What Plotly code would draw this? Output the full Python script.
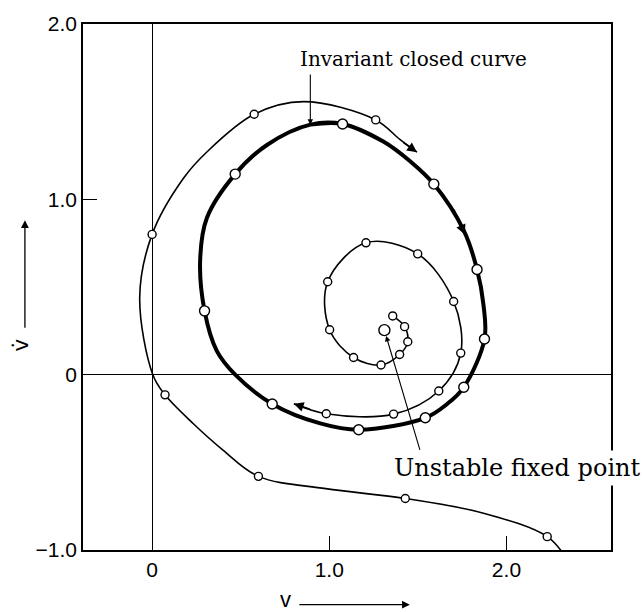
import plotly.graph_objects as go

# ---- trajectory data (v, v_dot) ----
# outer trajectory coming in from the lower right and winding onto the closed curve
outer_v = [2.34, 2.23, 1.87, 1.429, 0.98, 0.60, 0.40, 0.233, 0.073, 0.004, -0.07, 0.0, 0.177, 0.309, 0.576, 0.855, 1.262, 1.40, 1.495]
outer_vd = [-1.05, -0.924, -0.79, -0.706, -0.65, -0.58, -0.43, -0.28, -0.115, 0.0, 0.44, 0.80, 1.12, 1.27, 1.485, 1.557, 1.453, 1.34, 1.269]
outer_mark_v = [2.23, 1.429, 0.60, 0.073, 0.0, 0.576, 1.262]
outer_mark_vd = [-0.924, -0.706, -0.58, -0.115, 0.80, 1.485, 1.453]

# invariant closed curve (clockwise)
loop_v = [0.893, 1.075, 1.305, 1.458, 1.59, 1.76, 1.834, 1.87, 1.876, 1.759, 1.665, 1.542, 1.166, 0.949, 0.678, 0.469, 0.365, 0.296, 0.271, 0.309, 0.469, 0.648]
loop_vd = [1.426, 1.43, 1.33, 1.216, 1.087, 0.82, 0.60, 0.40, 0.203, -0.072, -0.167, -0.246, -0.314, -0.278, -0.167, 0.0, 0.136, 0.364, 0.648, 0.894, 1.144, 1.31]
loop_mark_v = [1.075, 0.469, 1.59, 1.834, 1.876, 1.759, 1.542, 1.166, 0.678, 0.296]
loop_mark_vd = [1.43, 1.144, 1.087, 0.60, 0.203, -0.072, -0.246, -0.314, -0.167, 0.364]

# inner trajectory spiralling out of the fixed point
spiral_v = [1.358, 1.425, 1.443, 1.397, 1.292, 1.137, 1.002, 0.991, 1.207, 1.499, 1.702, 1.742, 1.618, 1.363, 0.983, 0.80]
spiral_vd = [0.335, 0.274, 0.1875, 0.115, 0.055, 0.098, 0.256, 0.53, 0.752, 0.689, 0.417, 0.123, -0.093, -0.225, -0.223, -0.166]
spiral_mark_v = spiral_v[:-1]
spiral_mark_vd = spiral_vd[:-1]

fixed_v = [1.311]
fixed_vd = [0.254]

x_ticks = [0, 1, 2]
x_ticktext = ["0", "1.0", "2.0"]
y_ticks = [-1, 0, 1, 2]
y_ticktext = ["\u22121.0", "0", "1.0", "2.0"]

fig = go.Figure()

closed_v = loop_v + loop_v[:3]
closed_vd = loop_vd + loop_vd[:3]

fig.add_trace(go.Scatter(x=outer_v, y=outer_vd, mode="lines",
                         line=dict(color="black", width=1.6, shape="spline", smoothing=1.0)))
fig.add_trace(go.Scatter(x=closed_v, y=closed_vd, mode="lines",
                         line=dict(color="black", width=4, shape="spline", smoothing=1.0)))
fig.add_trace(go.Scatter(x=spiral_v, y=spiral_vd, mode="lines",
                         line=dict(color="black", width=1.6, shape="spline", smoothing=1.0)))

marker_style = dict(color="white", line=dict(color="black", width=1.4))
fig.add_trace(go.Scatter(x=outer_mark_v, y=outer_mark_vd, mode="markers",
                         marker=dict(size=8, **marker_style)))
fig.add_trace(go.Scatter(x=loop_mark_v, y=loop_mark_vd, mode="markers",
                         marker=dict(size=10, **marker_style)))
fig.add_trace(go.Scatter(x=spiral_mark_v, y=spiral_mark_vd, mode="markers",
                         marker=dict(size=8, **marker_style)))
fig.add_trace(go.Scatter(x=fixed_v, y=fixed_vd, mode="markers",
                         marker=dict(size=11, **marker_style)))

# direction arrows along the trajectories
flow_arrows = [
    ((1.495, 1.269), (1.41, 1.33)),
    ((1.765, 0.80), (1.70, 0.95)),
    ((0.80, -0.166), (0.90, -0.20)),
]
for (tx, ty), (sx, sy) in flow_arrows:
    fig.add_annotation(x=tx, y=ty, ax=sx, ay=sy, xref="x", yref="y", axref="x", ayref="y",
                       text="", showarrow=True, arrowhead=2, arrowsize=1.3, arrowwidth=1.5,
                       arrowcolor="black", standoff=0)

serif = "DejaVu Serif"
fig.add_annotation(x=0.893, y=1.426, ax=0.893, ay=1.72, xref="x", yref="y", axref="x", ayref="y",
                   text="", showarrow=True, arrowhead=2, arrowsize=1.0, arrowwidth=1.1,
                   arrowcolor="black", standoff=0)
fig.add_annotation(x=0.825, y=1.80, xref="x", yref="y", text="Invariant closed curve",
                   showarrow=False, xanchor="left", yanchor="middle",
                   font=dict(family=serif, size=20, color="black"))

fig.add_annotation(x=1.311, y=0.254, ax=1.514, ay=-0.4375, xref="x", yref="y", axref="x", ayref="y",
                   text="", showarrow=True, arrowhead=2, arrowsize=1.0, arrowwidth=1.1,
                   arrowcolor="black", standoff=6)
fig.add_annotation(x=1.34, y=-0.534, xref="x", yref="y", text="Unstable fixed point",
                   showarrow=False, xanchor="left", yanchor="middle", bgcolor="white",
                   borderpad=3, font=dict(family=serif, size=24, color="black"))

# axis titles with their arrows
sans = "Liberation Sans"
fig.add_annotation(x=0.383, y=-0.122, xref="paper", yref="paper", text="v", showarrow=False,
                   font=dict(family=sans, size=22, color="black"))
fig.add_annotation(x=0.619, y=-0.104, ax=-112, ay=0, xref="paper", yref="paper",
                   text="", showarrow=True, arrowhead=2, arrowsize=1.2, arrowwidth=1.3,
                   arrowcolor="black", standoff=0)
fig.add_annotation(x=-0.145, y=0.39, xref="paper", yref="paper", text="v\u0307", showarrow=False,
                   textangle=-90, font=dict(family="DejaVu Sans", size=22, color="black"))
fig.add_annotation(x=-0.110, y=0.627, ax=0, ay=109, xref="paper", yref="paper",
                   text="", showarrow=True, arrowhead=2, arrowsize=1.2, arrowwidth=1.3,
                   arrowcolor="black", standoff=0)

axis_common = dict(showgrid=False, showline=True, mirror=True, linecolor="black", linewidth=1.5,
                   zeroline=True, zerolinecolor="black", zerolinewidth=1,
                   ticks="inside", ticklen=14, tickwidth=1.3, tickcolor="black",
                   tickfont=dict(family=sans, size=21, color="black"))
fig.update_xaxes(range=[-0.39, 2.59], tickvals=x_ticks, ticktext=x_ticktext, **axis_common)
fig.update_yaxes(range=[-1.0, 2.0], tickvals=y_ticks, ticktext=y_ticktext, **axis_common)

fig.update_layout(width=643, height=612, margin=dict(l=83, r=32, t=22, b=62),
                  plot_bgcolor="white", paper_bgcolor="white", showlegend=False)

fig.write_html("out.html")
